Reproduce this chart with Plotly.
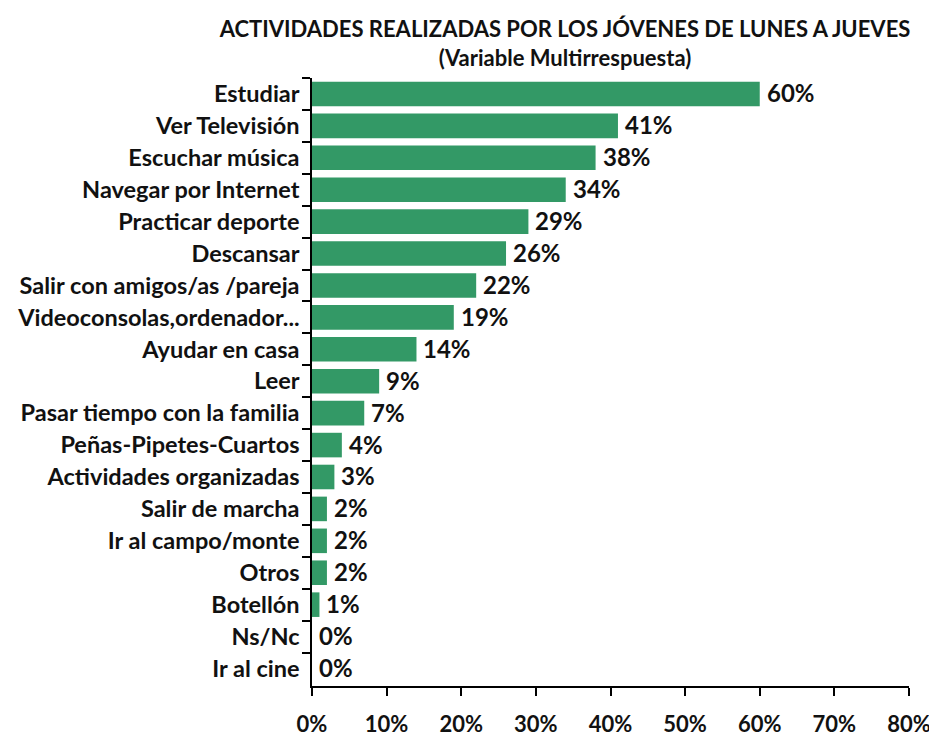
import plotly.graph_objects as go

categories = ["Estudiar", "Ver Televisión", "Escuchar música", "Navegar por Internet",
              "Practicar deporte", "Descansar", "Salir con amigos/as /pareja",
              "Videoconsolas,ordenador...", "Ayudar en casa", "Leer",
              "Pasar tiempo con la familia", "Peñas-Pipetes-Cuartos",
              "Actividades organizadas", "Salir de marcha", "Ir al campo/monte",
              "Otros", "Botellón", "Ns/Nc", "Ir al cine"]
values = [60, 41, 38, 34, 29, 26, 22, 19, 14, 9, 7, 4, 3, 2, 2, 2, 1, 0, 0]
tick_vals = [0, 10, 20, 30, 40, 50, 60, 70, 80]
tick_text = ["0%", "10%", "20%", "30%", "40%", "50%", "60%", "70%", "80%"]

FONT = "Lato"
GREEN = "#339966"
W, H = 929, 732

fig = go.Figure(go.Bar(
    x=values, y=categories, orientation="h",
    marker=dict(color=GREEN, line=dict(width=0)),
    width=0.77,
))

annotations = []
for c, v in zip(categories, values):
    annotations.append(dict(
        x=v, y=c, xref="x", yref="y", text=f"{v}%", showarrow=False,
        xanchor="left", yanchor="middle", xshift=5, yshift=1,
        font=dict(family=FONT, size=24, color="#111111", weight="bold"),
    ))

fig.update_layout(
    width=W, height=H,
    margin=dict(l=304, r=28, t=70, b=54),
    paper_bgcolor="white", plot_bgcolor="white",
    showlegend=False,
    title=dict(
        text="<b>ACTIVIDADES REALIZADAS POR LOS JÓVENES DE LUNES A JUEVES<br>(Variable Multirrespuesta)</b>",
        x=557/W, xanchor="center", y=1 - 29/H, yanchor="top",
        font=dict(family=FONT, size=22, color="#111111"),
    ),
    annotations=annotations,
    font=dict(family=FONT, color="#111111"),
)

fig.update_xaxes(
    range=[0, 80], tickvals=tick_vals, ticktext=tick_text,
    showgrid=False, zeroline=False, automargin=False,
    showline=True, linecolor="black", linewidth=1.5,
    ticks="outside", ticklen=8, tickcolor="black", tickwidth=1.5,
    ticklabelstandoff=10,
    tickfont=dict(family=FONT, size=22, color="#111111", weight="bold"),
)
fig.update_yaxes(
    autorange="reversed", showgrid=False, zeroline=False, automargin=False,
    showline=True, linecolor="black", linewidth=1.5,
    ticks="outside", ticklen=8, tickcolor="black", tickwidth=1.5,
    tickson="boundaries", ticklabelstandoff=6,
    tickfont=dict(family=FONT, size=23.5, color="#111111", weight="bold"),
)

fig.write_html("out.html")
